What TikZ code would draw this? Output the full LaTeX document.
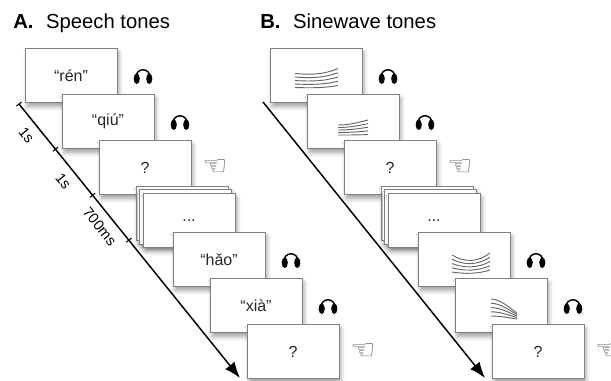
\documentclass[tikz,border=0pt]{standalone}
\usepackage{fontspec}
\setmainfont{Liberation Sans}
\newfontfamily\symfont{DejaVu Sans}
\usetikzlibrary{arrows.meta,positioning,shadows.blur}

\tikzset{
  card/.style={draw=black!50, fill=white, line width=0.6pt, inner sep=0pt,
    minimum width=69pt, minimum height=41pt, text=black!85,
    font=\fontsize{12}{14}\selectfont,
    blur shadow={shadow xshift=1.5pt, shadow yshift=-3pt,
      shadow blur radius=3pt, shadow opacity=35}},
  phones/.style={minimum width=14pt, minimum height=13pt, inner sep=0pt,
    path picture={
      \begin{scope}[shift={(path picture bounding box.center)}]
        \draw[line width=1.1pt] (-5.3pt,-1pt) arc[start angle=180, end angle=0, radius=5.3pt];
        \fill (-4.7pt,-2.4pt) ellipse[x radius=2.3pt, y radius=4pt];
        \fill (4.7pt,-2.4pt) ellipse[x radius=2.3pt, y radius=4pt];
      \end{scope}}},
  hand/.style={inner sep=0pt, text=black!65, font=\symfont\fontsize{21}{21}\selectfont},
  panel/.style={anchor=base west, inner sep=0pt, font=\fontsize{15.2}{18}\selectfont},
  timeline/.style={line width=1.1pt, -{Latex[length=12pt,width=9pt]}},
  tickmark/.style={draw, line width=0.8pt, inner sep=0pt, minimum width=0pt, minimum height=5pt},
  span/.style={font=\fontsize{11}{13}\selectfont, inner sep=1pt, sloped, below=5pt},
  wave/.style={draw=black!60, line width=0.7pt}
}

\begin{document}
\begin{tikzpicture}[x=0.75pt,y=-0.75pt]
\useasboundingbox (0,0) rectangle (611,380);

% panel titles
\node[panel] (titleA) at (13,28) {\textbf{A.}\hspace{0.62em}Speech tones};
\node[panel] (titleB) at (260,28) {\textbf{B.}\hspace{0.62em}Sinewave tones};

% speech trials
\node[card] (a1) at (71,75.5) {“rén”};
\node[card] (a2) at (108,121.5) {“qiú”};
\node[card] (a3) at (145,167.5) {?};
\node[card] (a4) at (182,213.5) {};
\node[card] (a4b) at (185.5,217) {};
\node[card] (a4c) at (189,220.5) {...};
\node[card] (a5) at (219,259.5) {“hǎo”};
\node[card] (a6) at (256,305.5) {“xià”};
\node[card] (a7) at (293,351.5) {?};

\node[phones, right=12pt of a1] (ha1) {};
\node[phones, right=12pt of a2] (ha2) {};
\node[hand, right=8pt of a3] (pa3) {☜};
\node[phones, right=12pt of a5] (ha5) {};
\node[phones, right=12pt of a6] (ha6) {};
\node[hand, right=8pt of a7] (pa7) {☜};

% sinewave trials
\node[card] (b1) at (316,75.5) {};
\node[card] (b2) at (353,121.5) {};
\node[card] (b3) at (390,167.5) {?};
\node[card] (b4) at (427,213.5) {};
\node[card] (b4b) at (430.5,217) {};
\node[card] (b4c) at (434,220.5) {...};
\node[card] (b5) at (464,259.5) {};
\node[card] (b6) at (501,305.5) {};
\node[card] (b7) at (538,351.5) {?};

\node[phones, right=12pt of b1] (hb1) {};
\node[phones, right=12pt of b2] (hb2) {};
\node[hand, right=8pt of b3] (pb3) {☜};
\node[phones, right=12pt of b5] (hb5) {};
\node[phones, right=12pt of b6] (hb6) {};
\node[hand, right=8pt of b7] (pb7) {☜};

% harmonics: rising, rising, dipping, falling
\begin{scope}[shift={(b1.center)}]
  \foreach \k in {0,...,4} {
    \pgfmathsetmacro\t{\k/4}
    \draw[wave] (-21,{12-14*\t}) .. controls (-5,{12.5-13*\t}) and (8,{12.5-13.5*\t}) .. (22,{10-17*\t});
  }
\end{scope}
\begin{scope}[shift={(b2.center)}]
  \foreach \k in {0,...,4} {
    \pgfmathsetmacro\t{\k/4}
    \draw[wave] (-15,{13.5-10*\t}) .. controls (-3,{13.5-10*\t}) and (5,{13.5-12.5*\t}) .. (15,{13-14.5*\t});
  }
\end{scope}
\begin{scope}[shift={(b5.center)}]
  \foreach \k in {0,...,4} {
    \pgfmathsetmacro\t{\k/4}
    \draw[wave] (-12,{12.5-17*\t}) .. controls (0,{14.5-11.5*\t}) and (14,{14.5-11.5*\t}) .. (26,{10.5-17*\t});
  }
\end{scope}
\begin{scope}[shift={(b6.center)}]
  \foreach \k in {0,...,4} {
    \pgfmathsetmacro\t{\k/4}
    \draw[wave] (-10,{10.5-17*\t}) .. controls (0,{10.5-16.5*\t}) and (8,{12.5-10.5*\t}) .. (16,{13.5-6*\t});
  }
\end{scope}

% time axes
\coordinate (sA) at (19,104);
\coordinate (eA) at (240,378);
\coordinate (sB) at (263,102);
\coordinate (eB) at (485,378);

\draw[timeline] (sA) -- (eA)
  node[tickmark, sloped, pos=0] (k0) {}
  node[tickmark, sloped, pos=0.165] (k1) {}
  node[tickmark, sloped, pos=0.333] (k2) {}
  node[tickmark, sloped, pos=0.497] (k3) {}
  node[span, pos=0.083] (d1) {1s}
  node[span, pos=0.249] (d2) {1s}
  node[span, pos=0.415] (d3) {700ms};
\draw[timeline] (sB) -- (eB);

\end{tikzpicture}
\end{document}
